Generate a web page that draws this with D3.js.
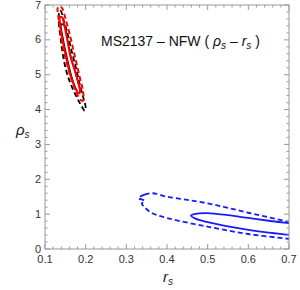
<!DOCTYPE html>
<html><head><meta charset="utf-8">
<script src="https://cdn.jsdelivr.net/npm/d3@7"></script>
<style>body{margin:0;background:#fff}svg{display:block}text{font-family:"Liberation Sans",Arial,sans-serif}</style>
</head><body><svg id="c" width="300" height="290"></svg>
<script>
const xTicks=[0.1,0.2,0.3,0.4,0.5,0.6,0.7];
const yTicks=[0,1,2,3,4,5,6,7];
const titleText="MS2137 – NFW (";
// contours [r_s, rho_s]
const redDashed=[[0.132,6.94],[0.135,6.5],[0.144,5.8],[0.152,5.4],[0.164,4.9],[0.177,4.5],[0.188,4.27],[0.194,4.26],[0.193,4.55],[0.186,4.9],[0.175,5.45],[0.164,6.0],[0.153,6.5],[0.14,6.94]];
const blackDashed=[[0.136,6.83],[0.134,6.5],[0.139,6.0],[0.145,5.5],[0.155,5.0],[0.168,4.6],[0.185,4.2],[0.198,3.97],[0.2,4.06],[0.194,4.35],[0.186,4.7],[0.176,5.2],[0.165,5.7],[0.155,6.2],[0.145,6.6],[0.139,6.83]];
const redSolid=[[0.137,6.65],[0.137,6.45],[0.143,6.0],[0.152,5.5],[0.161,5.05],[0.171,4.7],[0.18,4.5],[0.185,4.47],[0.186,4.6],[0.183,4.72],[0.174,5.1],[0.163,5.5],[0.155,6.0],[0.147,6.45],[0.142,6.65]];
const blackSolid=[[0.14,6.45],[0.145,6.0],[0.154,5.5],[0.163,5.05],[0.173,4.68],[0.182,4.48],[0.186,4.5],[0.184,4.65],[0.175,5.05],[0.164,5.5],[0.156,5.95],[0.148,6.4]];
const blueSolid=[[0.459,0.96],[0.47,1.01],[0.5,1.03],[0.55,0.97],[0.6,0.89],[0.65,0.81],[0.7,0.74],[0.75,0.66],[0.78,0.55],[0.75,0.35],[0.7,0.41],[0.65,0.47],[0.6,0.55],[0.55,0.65],[0.5,0.77],[0.47,0.87]];
const blueDashed=[[0.33,1.46],[0.345,1.56],[0.365,1.6],[0.4,1.5],[0.45,1.41],[0.5,1.31],[0.55,1.18],[0.6,1.04],[0.65,0.91],[0.7,0.78],[0.75,0.66],[0.8,0.5],[0.75,0.22],[0.7,0.29],[0.6,0.43],[0.5,0.64],[0.4,0.89],[0.36,1.05],[0.345,1.2],[0.338,1.3],[0.345,1.38]];

const svg=d3.select("#c");
const L=45,R=289,T=5,B=249;
const x=d3.scaleLinear().domain([0.1,0.7]).range([L,R]);
const y=d3.scaleLinear().domain([0,7]).range([B,T]);
svg.append("clipPath").attr("id","clip").append("rect").attr("x",L).attr("y",T).attr("width",R-L).attr("height",B-T);
const g=svg.append("g").attr("clip-path","url(#clip)");
const line=d3.line().x(d=>x(d[0])).y(d=>y(d[1])).curve(d3.curveCatmullRomClosed.alpha(0.5));
function draw(data,color,dashed,w){
  g.append("path").attr("d",line(data)).attr("fill","none").attr("stroke",color)
   .attr("stroke-width",w||1.8).attr("stroke-dasharray",dashed?"5,3":null);
}
draw(blueDashed,"#1a1aff",true);
draw(blueSolid,"#1a1aff",false);
draw(blackSolid,"#000",false,1.4);
draw(blackDashed,"#000",true);
draw(redSolid,"#ff0000",false,2);
draw(redDashed,"#ff0000",true,2);

// frame
const fc="#999";
svg.append("rect").attr("x",L).attr("y",T).attr("width",R-L).attr("height",B-T).attr("fill","none").attr("stroke",fc).attr("stroke-width",1);
const xMinor=d3.range(0.1,0.7001,0.02);
const yMinor=d3.range(0,7.001,0.2);
const tk=svg.append("g").attr("stroke",fc).attr("stroke-width",1);
xMinor.forEach(v=>{const maj=xTicks.some(t=>Math.abs(t-v)<1e-6);const l=maj?5:2.5;
  tk.append("line").attr("x1",x(v)).attr("x2",x(v)).attr("y1",B).attr("y2",B-l);
  tk.append("line").attr("x1",x(v)).attr("x2",x(v)).attr("y1",T).attr("y2",T+l);});
yMinor.forEach(v=>{const maj=yTicks.some(t=>Math.abs(t-v)<1e-6);const l=maj?5:2.5;
  tk.append("line").attr("y1",y(v)).attr("y2",y(v)).attr("x1",L).attr("x2",L+l);
  tk.append("line").attr("y1",y(v)).attr("y2",y(v)).attr("x1",R).attr("x2",R-l);});
xTicks.forEach(v=>svg.append("text").attr("x",x(v)).attr("y",263).attr("text-anchor","middle").attr("font-size",11).attr("fill","#333").text(v.toFixed(1)));
yTicks.forEach(v=>svg.append("text").attr("x",41).attr("y",y(v)+3.5).attr("text-anchor","end").attr("font-size",11).attr("fill","#333").text(v));

// axis labels
const yl=svg.append("text").attr("x",16).attr("y",135).attr("font-size",15).attr("fill","#222");
yl.append("tspan").attr("font-style","italic").text("ρ");
yl.append("tspan").attr("font-size",10).attr("dy",3).attr("font-style","italic").text("s");
const xl=svg.append("text").attr("x",163).attr("y",282).attr("font-size",15).attr("fill","#222");
xl.append("tspan").attr("font-style","italic").text("r");
xl.append("tspan").attr("font-size",10).attr("dy",3).attr("font-style","italic").text("s");

// title
const t=svg.append("text").attr("x",101).attr("y",46).attr("font-size",14).attr("fill","#111");
t.append("tspan").text(titleText+" ");
t.append("tspan").attr("font-style","italic").text("ρ");
t.append("tspan").attr("font-size",10).attr("dy",3).attr("font-style","italic").text("s");
t.append("tspan").attr("dy",-3).text(" – ");
t.append("tspan").attr("font-style","italic").text("r");
t.append("tspan").attr("font-size",10).attr("dy",3).attr("font-style","italic").text("s");
t.append("tspan").attr("dy",-3).text(" )");
</script></body></html>
